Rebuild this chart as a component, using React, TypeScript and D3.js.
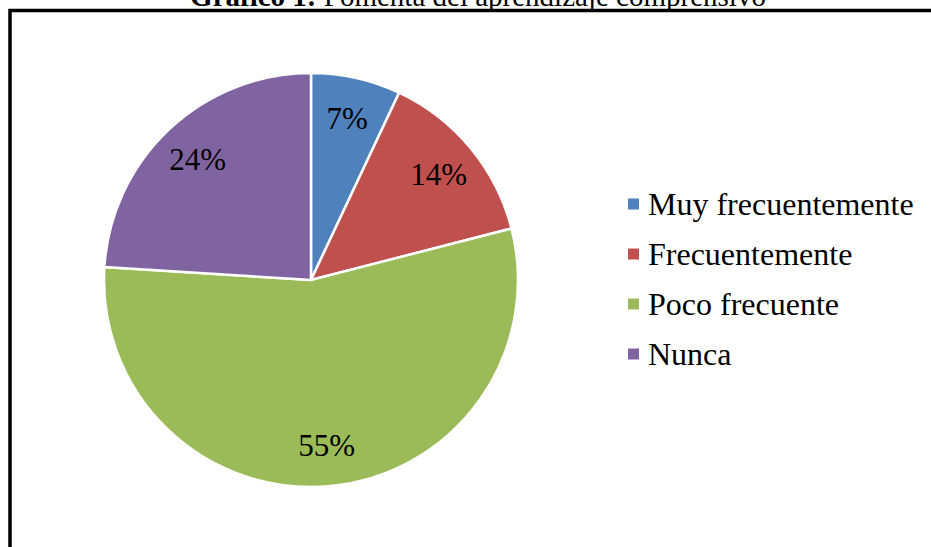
import React from "react";
import * as d3 from "d3";

const categories = ["Muy frecuentemente", "Frecuentemente", "Poco frecuente", "Nunca"];
const values = [7, 14, 55, 24];
const colors = ["#4F81BD", "#C0504D", "#9BBB59", "#8064A2"];
const titleBold = "Gráfico 1:";
const titleRest = " Fomenta del aprendizaje comprensivo";

const W = 931;
const H = 547;
const FONT = "'Liberation Serif', 'Times New Roman', serif";

export default function App() {
  const cx = 311;
  const cy = 280;
  const r = 207;
  const pie = d3.pie<number>().sort(null).value((d) => d);
  const arcs = pie(values);
  const arc = d3.arc<d3.PieArcDatum<number>>().innerRadius(0).outerRadius(r);
  const labelArc = d3.arc<d3.PieArcDatum<number>>().innerRadius(r * 0.8).outerRadius(r * 0.8);
  const total = d3.sum(values);
  const legendY = d3.scalePoint<string>().domain(categories).range([204, 354]);

  return (
    <svg width={W} height={H} style={{ position: "absolute", left: 0, top: 0, background: "#fff" }}>
      <text x={478} y={6} textAnchor="middle" fontFamily={FONT} fontSize={29} fill="#000">
        <tspan fontWeight="bold">{titleBold}</tspan>
        <tspan>{titleRest}</tspan>
      </text>
      <rect x={10} y={10.5} width={W + 20} height={H + 20} fill="none" stroke="#000" strokeWidth={3.5} />
      <g transform={`translate(${cx},${cy})`}>
        {arcs.map((a, i) => (
          <path key={i} d={arc(a) || ""} fill={colors[i]} stroke="#fff" strokeWidth={2.5} />
        ))}
        {arcs.map((a, i) => {
          const [lx, ly] = labelArc.centroid(a);
          return (
            <text key={i} x={lx} y={ly} dy="0.35em" textAnchor="middle" fontFamily={FONT} fontSize={31} fill="#000">
              {`${Math.round((values[i] / total) * 100)}%`}
            </text>
          );
        })}
      </g>
      <g>
        {categories.map((c, i) => (
          <g key={c} transform={`translate(628,${legendY(c)})`}>
            <rect x={0} y={-5.5} width={11} height={11} fill={colors[i]} />
            <text x={20} y={0} dy="0.33em" fontFamily={FONT} fontSize={32} fill="#000">
              {c}
            </text>
          </g>
        ))}
      </g>
    </svg>
  );
}
